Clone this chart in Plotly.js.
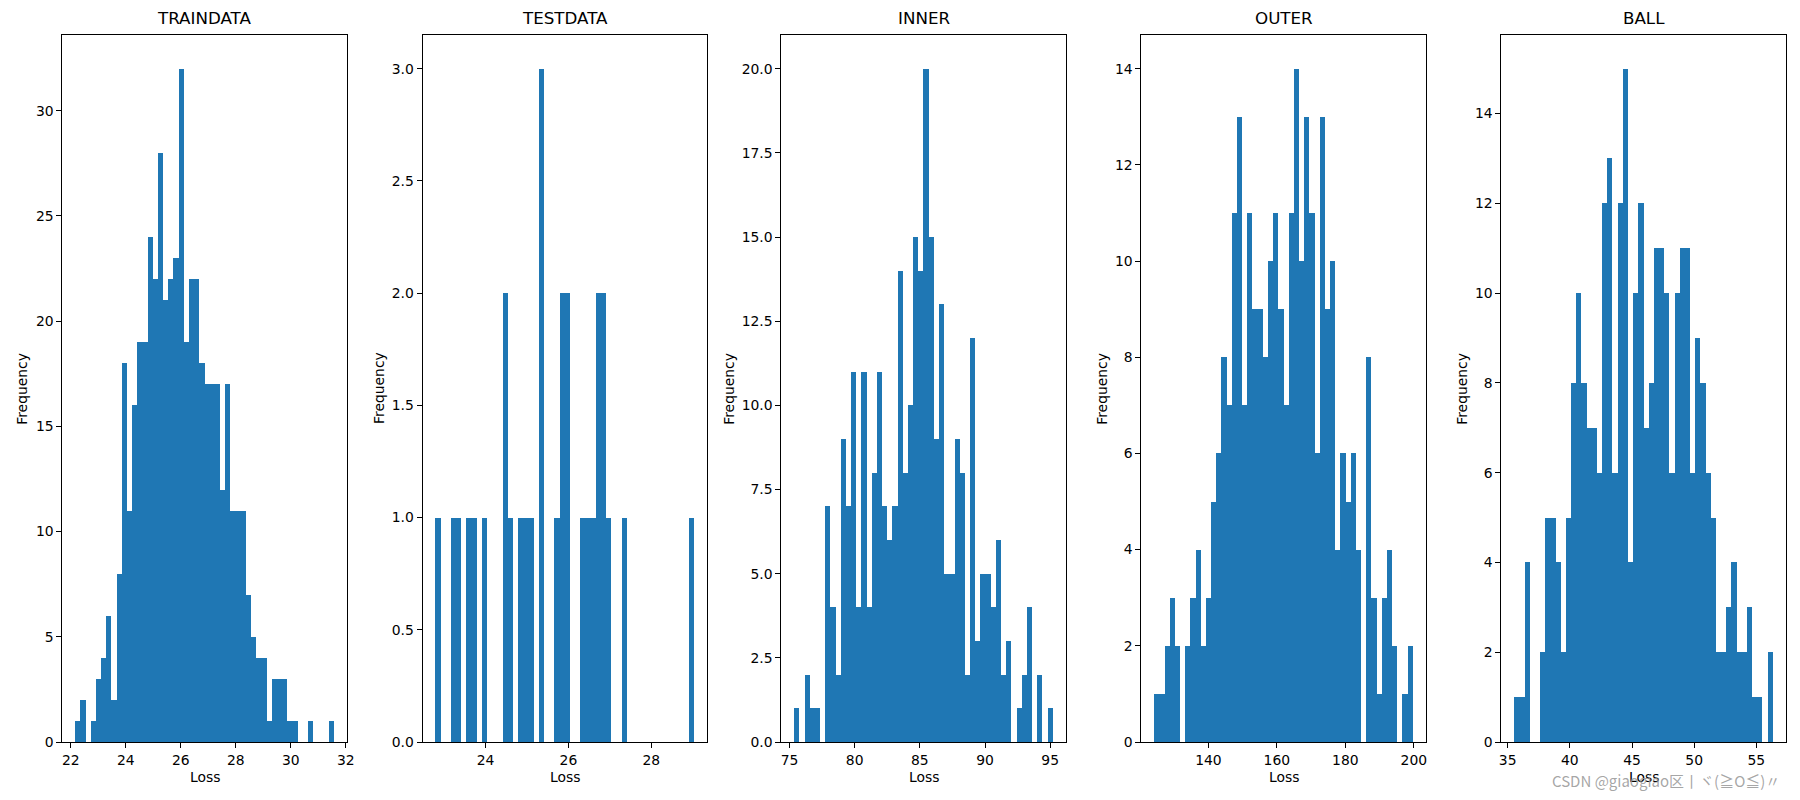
<!DOCTYPE html>
<html>
<head>
<meta charset="utf-8">
<script src="https://cdn.plot.ly/plotly-3.0.1.min.js"></script>
<style>html,body{margin:0;padding:0;background:#fff;}#chart{width:1800px;height:800px;}</style>
</head>
<body>
<div id="chart"></div>
<script>
// ---- data (histogram counts, 50 bins each) ----
const panelTitles = ["TRAINDATA", "TESTDATA", "INNER", "OUTER", "BALL"];

const trainCounts = [1,2,0,1,3,4,6,2,8,18, 11,16,19,19,24,22,28,21,22,23, 32,19,22,22,18,17,17,17,12,17, 11,11,11,7,5,4,4,1,3,3, 3,1,1,0,0,1,0,0,0,1];
const testCounts  = [1,0,0,1,1,0,1,1,0,1, 0,0,0,2,1,0,1,1,1,0, 3,0,0,1,2,2,0,0,1,1, 1,2,2,1,0,0,1,0,0,0, 0,0,0,0,0,0,0,0,0,1];
const innerCounts = [1,0,2,1,1,0,7,4,2,9, 7,11,4,11,4,8,11,7,6,7, 14,8,10,15,14,20,15,9,13,5, 5,9,8,2,12,3,5,5,4,6, 2,3,0,1,2,4,0,2,0,1];
const outerCounts = [1,1,2,3,2,0,2,3,4,2, 3,5,6,8,7,11,13,7,11,9, 9,8,10,11,9,7,11,14,10,13, 11,6,13,9,10,4,6,5,6,4, 0,8,3,1,3,4,2,0,1,2];
const ballCounts  = [1,1,4,0,0,2,5,5,4,2, 5,8,10,8,7,7,6,12,13,6, 12,15,4,10,12,7,8,11,11,10, 6,10,11,11,6,9,8,6,5,2, 2,3,4,2,2,3,1,1,0,2];

// histogram data range (min, max of Loss) for each panel
const trainRange = [22.158, 31.56];
const testRange  = [22.79, 29.03];
const innerRange = [75.36, 95.2];
const outerRange = [124.18, 199.7];
const ballRange  = [35.53, 56.32];

const xDticks = [2, 2, 5, 20, 5];
const yDticks = [5, 0.5, 2.5, 2, 2];
const yFormats = ["d", ".1f", ".1f", "d", "d"];

// ---- build ----
const W = 1800, H = 800;
const panelLeft = [62.3, 422.5, 781.3, 1141.3, 1501.3];
const ylabelOffset = [41, 44, 53, 40, 40];
const panelWidth = 284.4;
const plotTop = 35, plotBottom = 742;
const color = "#1f77b4";
const font = "DejaVu Sans, sans-serif";

const allCounts = [trainCounts, testCounts, innerCounts, outerCounts, ballCounts];
const allRanges = [trainRange, testRange, innerRange, outerRange, ballRange];

const traces = [];
const layout = {
  width: W, height: H,
  margin: {l: 0, r: 0, t: 0, b: 0},
  paper_bgcolor: "#fff", plot_bgcolor: "#fff",
  showlegend: false,
  bargap: 0,
  font: {family: font, color: "#000", size: 13.9},
  annotations: []
};

allCounts.forEach((counts, p) => {
  const [lo, hi] = allRanges[p];
  const n = counts.length;
  const w = (hi - lo) / n;
  const xs = counts.map((_, i) => lo + (i + 0.5) * w);
  const suffix = p === 0 ? "" : String(p + 1);
  traces.push({
    type: "bar",
    x: xs, y: counts,
    width: counts.map(() => w),
    marker: {color: color, line: {width: 0}},
    xaxis: "x" + suffix, yaxis: "y" + suffix,
    hoverinfo: "x+y"
  });
  const pad = 0.05 * (hi - lo);
  const ymax = Math.max(...counts) * 1.05;
  const x0 = panelLeft[p] / W, x1 = (panelLeft[p] + panelWidth) / W;
  const common = {
    showline: true, mirror: true, linecolor: "#000", linewidth: 1,
    ticks: "outside", ticklen: 4.9, tickwidth: 1, tickcolor: "#000",
    showgrid: false, zeroline: false,
    tickfont: {family: font, size: 13.9, color: "#000"}
  };
  layout["xaxis" + suffix] = Object.assign({}, common, {
    domain: [x0, x1],
    range: [lo - pad, hi + pad],
    dtick: xDticks[p], tick0: 0,
    anchor: "y" + suffix
  });
  layout["yaxis" + suffix] = Object.assign({}, common, {
    domain: [1 - plotBottom / H, 1 - plotTop / H],
    range: [0, ymax],
    dtick: yDticks[p], tick0: 0,
    tickformat: yFormats[p],
    anchor: "x" + suffix
  });
  const cx = (panelLeft[p] + panelWidth / 2) / W;
  layout.annotations.push({
    text: panelTitles[p], xref: "paper", yref: "paper",
    x: cx, y: 1 - 18.5 / H, xanchor: "center", yanchor: "middle",
    showarrow: false, font: {family: font, size: 16.7, color: "#000"}
  });
  layout.annotations.push({
    text: "Loss", xref: "paper", yref: "paper",
    x: cx, y: 1 - 777 / H, xanchor: "center", yanchor: "middle",
    showarrow: false, font: {family: font, size: 13.9, color: "#000"}
  });
  layout.annotations.push({
    text: "Frequency", xref: "paper", yref: "paper",
    x: (panelLeft[p] - ylabelOffset[p]) / W, y: 1 - ((plotTop + plotBottom) / 2) / H,
    xanchor: "center", yanchor: "middle", textangle: -90,
    showarrow: false, font: {family: font, size: 13.9, color: "#000"}
  });
});

layout.annotations.push({
  text: "CSDN @giaogiao区丨ヾ(≧O≦)〃", xref: "paper", yref: "paper",
  x: 1782 / W, y: 1 - 780 / H, xanchor: "right", yanchor: "middle",
  showarrow: false, font: {family: "Noto Sans CJK SC, DejaVu Sans, sans-serif", size: 15, color: "rgba(150,150,150,0.85)"}
});

Plotly.newPlot("chart", traces, layout, {displayModeBar: false, staticPlot: true});
</script>
</body>
</html>
